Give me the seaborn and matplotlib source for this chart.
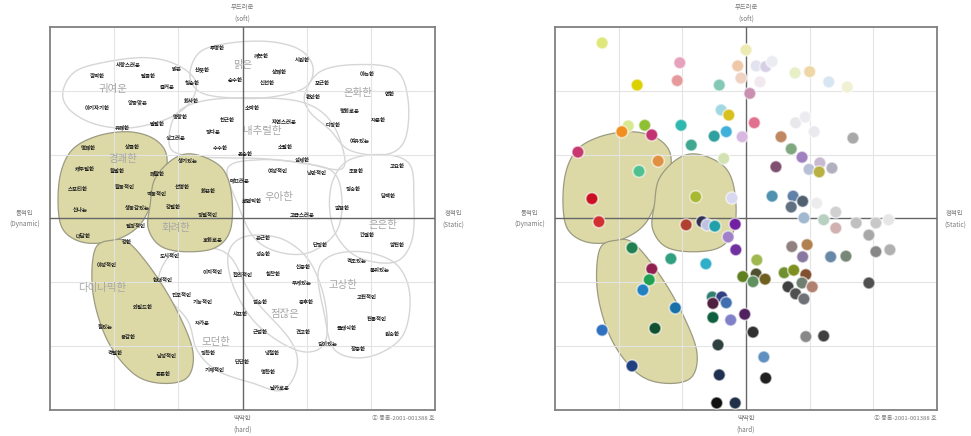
import numpy as np
import pandas as pd
import matplotlib
matplotlib.use("Agg")
import matplotlib.pyplot as plt
from matplotlib.patches import Polygon
import seaborn as sns

sns.set_theme(style="white")
plt.rcParams["font.family"] = ["Noto Sans CJK KR", "DejaVu Sans"]

# ---------------- data: image words (left map) ----------------
word_text = [
    "투명한", "깨끗한", "시원한", "깜찍한", "사랑스러운", "달콤한", "밝은", "산뜻한", "상쾌한", "즐거운",
    "청순한", "순수한", "신선한", "포근한", "아늑한", "편안한", "연한", "아기자기한", "앙증맞은", "화사한",
    "소박한", "평화로운", "차분한", "명랑한", "친근한", "자연스러운", "다정한", "유쾌한", "발랄한", "싱그러운",
    "정다운", "여유있는", "수수한", "소탈한", "명쾌한", "상큼한", "온순한", "섬세한", "고요한", "생기있는",
    "캐주얼한", "활발한", "쾌활한", "여성적인", "낭만적인", "조용한", "매끄러운", "선명한", "화끈한", "스포티한",
    "활동적인", "역동적인", "정숙한", "담백한", "신나는", "생동감있는", "강렬한", "로맨틱한", "깔끔한", "고급스러운",
    "정열적인", "대담한", "열정적인", "호화로운", "강한", "은근한", "단정한", "간결한", "얌전한", "성숙한",
    "도시적인", "격조있는", "품위있는", "야성적인", "신중한", "이지적인", "합리적인", "침착한", "현대적인", "무게있는",
    "진보적인", "기능적인", "엄숙한", "중후한", "고전적인", "와일드한", "샤프한", "전통적인", "힘있는", "차가운",
    "근엄한", "견고한", "클래식한", "원숙한", "용감한", "깊이있는", "장중한", "격렬한", "남성적인", "정확한",
    "냉철한", "단단한", "기계적인", "명확한", "튼튼한", "날카로운",
]
word_x = [
    -0.40, 0.30, 0.93, -2.27, -1.78, -1.47, -1.02, -0.63, 0.58, -1.18,
    -0.79, -0.12, 0.38, 1.24, 1.95, 1.10, 2.30, -2.27, -1.64, -0.79,
    0.16, 1.67, 2.11, -0.97, -0.24, 0.66, 1.41, -1.88, -1.33, -1.04,
    -0.46, 1.83, -0.35, 0.66, -2.41, -1.72, 0.04, 0.94, 2.41, -0.85,
    -2.45, -1.95, -1.33, 0.55, 1.16, 1.78, -0.04, -0.94, -0.54, -2.56,
    -1.83, -1.33, 1.72, 2.27, -2.53, -1.64, -1.08, 0.15, 1.55, 0.93,
    -0.54, -2.48, -1.67, -0.46, -1.80, 0.32, 1.21, 1.94, 2.41, 0.32,
    -1.13, 1.78, 2.14, -2.11, 0.94, -0.46, 0.01, 0.48, -1.24, 0.93,
    -0.94, -0.62, 0.27, 1.00, 1.94, -1.55, -0.04, 2.09, -2.14, -0.62,
    0.27, 0.94, 1.63, 2.34, -1.78, 1.33, 1.80, -1.99, -1.18, -0.54,
    0.46, -0.01, -0.43, 0.40, -1.24, 0.58,
]
word_y = [
    2.66, 2.56, 2.47, 2.23, 2.39, 2.23, 2.33, 2.34, 2.30, 2.06,
    2.11, 2.16, 2.12, 2.11, 2.25, 1.89, 1.94, 1.73, 1.81, 1.84,
    1.73, 1.68, 1.54, 1.59, 1.53, 1.51, 1.45, 1.43, 1.48, 1.26,
    1.34, 1.20, 1.09, 1.12, 1.12, 1.11, 1.00, 0.92, 0.81, 0.89,
    0.78, 0.73, 0.70, 0.73, 0.71, 0.73, 0.60, 0.48, 0.42, 0.45,
    0.48, 0.37, 0.45, 0.34, 0.13, 0.16, 0.18, 0.26, 0.15, 0.05,
    0.05, -0.26, -0.12, -0.34, -0.38, -0.31, -0.42, -0.26, -0.43, -0.57,
    -0.60, -0.68, -0.82, -0.74, -0.76, -0.85, -0.89, -0.87, -0.95, -1.00,
    -1.21, -1.32, -1.32, -1.31, -1.23, -1.39, -1.50, -1.59, -1.70, -1.64,
    -1.79, -1.79, -1.70, -1.81, -1.87, -1.98, -2.06, -2.11, -2.16, -2.11,
    -2.12, -2.26, -2.36, -2.42, -2.45, -2.66,
]

# ---------------- data: image groups ----------------
group_names = ["귀여운", "맑은", "온화한", "내추럴한", "경쾌한", "우아한",
               "화려한", "은은한", "다이나믹한", "고상한", "점잖은", "모던한"]
group_x = [-2.02, 0.01, 1.80, 0.30, -1.86, 0.57, -1.04, 2.19, -2.19, 1.57, 0.66, -0.41]
group_y = [2.03, 2.41, 1.97, 1.37, 0.93, 0.34, -0.15, -0.10, -1.09, -1.04, -1.50, -1.94]

# ---------------- data: colour swatches (right map) ----------------
dot_x = [
    -2.26, 0.00, -1.04, -0.13, 0.16, 0.31, 0.41, -1.08, -0.08, 0.22,
    0.77, 1.00, 1.30, 1.59, -1.71, -0.42, 0.06, -0.39, -0.27, 0.13,
    -1.02, -1.85, -1.59, -1.95, -1.48, -0.50, -0.31, -0.06, 0.78, 0.93,
    1.07, 0.55, 1.68, -0.86, -2.64, -1.38, -1.68, -0.35, 0.71, 0.88,
    0.47, 0.99, 1.16, 1.15, 1.35, -2.42, -0.79, -0.22, 0.41, 0.74,
    0.89, 0.71, 1.11, 1.41, -2.31, -0.94, -0.69, -0.61, -0.49, -0.17,
    0.91, 1.22, 1.41, 1.73, 2.04, 2.24, -0.28, 1.93, -1.79, -0.16,
    -1.18, -0.63, 0.17, 0.72, 0.96, 0.89, 1.33, 1.57, 2.04, 2.26,
    -1.48, -1.52, -1.62, -0.05, 0.16, 0.11, 0.30, 0.60, 0.75, 0.94,
    0.66, 0.88, 1.04, 0.78, 0.91, 1.93, -0.53, -0.38, -0.52, -0.31,
    -1.11, -0.52, -0.24, -0.02, -2.26, -1.43, 0.11, 0.94, 1.22, -0.44,
    0.28, -1.79, -0.42, 0.31, -0.46, -0.17,
]
dot_y = [
    2.75, 2.64, 2.44, 2.39, 2.39, 2.38, 2.46, 2.16, 2.20, 2.14,
    2.28, 2.30, 2.14, 2.06, 2.09, 2.09, 1.96, 1.70, 1.62, 1.50,
    1.46, 1.45, 1.46, 1.36, 1.31, 1.29, 1.36, 1.28, 1.50, 1.59,
    1.36, 1.28, 1.26, 1.15, 1.04, 0.90, 0.74, 0.94, 1.09, 0.96,
    0.81, 0.77, 0.87, 0.73, 0.79, 0.31, 0.34, 0.32, 0.35, 0.35,
    0.27, 0.18, 0.24, 0.10, -0.05, -0.10, -0.05, -0.10, -0.12, -0.09,
    0.01, -0.02, -0.15, -0.07, -0.07, -0.02, -0.29, -0.26, -0.46, -0.49,
    -0.63, -0.71, -0.65, -0.44, -0.41, -0.60, -0.60, -0.59, -0.52, -0.49,
    -0.79, -0.96, -1.12, -0.91, -0.87, -0.99, -0.95, -0.85, -0.81, -0.88,
    -1.07, -1.01, -1.07, -1.18, -1.26, -1.01, -1.23, -1.23, -1.33, -1.32,
    -1.40, -1.55, -1.59, -1.50, -1.75, -1.72, -1.78, -1.85, -1.84, -1.98,
    -2.17, -2.31, -2.45, -2.50, -2.89, -2.89,
]
dot_color = [
    "#dfe77a", "#eeeab4", "#e6a2bc", "#efc8a8", "#e2e2f0", "#d6cfe6", "#ebebf2", "#e79a9c", "#f0d2c2", "#f2e8f0",
    "#e6efc6", "#efd6a6", "#d6e6f2", "#f0f0d2", "#ddd000", "#84c8b6", "#c990b2", "#a2d8e2", "#d8c020", "#e0708e",
    "#2fb8b0", "#d8e88e", "#8fbf32", "#f08f20", "#c23272", "#2f9f9f", "#40b0d8", "#d8b8e0", "#e8e8ec", "#ececf0",
    "#eaeaee", "#c08860", "#a8a8a8", "#40a890", "#c83870", "#e09040", "#50c090", "#d2e2b2", "#80a880", "#a080c0",
    "#805070", "#b8c0d8", "#c8b8d0", "#b8b040", "#b0b0c0", "#c81020", "#a8b830", "#d8d8f0", "#5090b0", "#6080a8",
    "#506070", "#607080", "#ececec", "#d0d0d0", "#d03030", "#b04030", "#303050", "#c0c0e0", "#20a0a8", "#7020a0",
    "#a0b8d0", "#b8d0c0", "#d0b0b0", "#c0c0c0", "#c8c8c8", "#e6e6e6", "#a080c8", "#a8a8a8", "#208050", "#7030a0",
    "#30a080", "#30b0c8", "#a0b850", "#908080", "#b08050", "#8878a0", "#6888a8", "#788878", "#888888", "#b0b0b0",
    "#902050", "#20a050", "#2080c0", "#608020", "#505030", "#609060", "#706020", "#709030", "#809020", "#805030",
    "#404040", "#708070", "#b08070", "#505050", "#707078", "#505050", "#308070", "#304080", "#502040", "#4070b0",
    "#1870a8", "#106040", "#8080c8", "#502060", "#3070c0", "#105030", "#303030", "#888888", "#404040", "#304040",
    "#6090c0", "#204080", "#203050", "#202020", "#101010", "#203048",
]

# ---------------- group outlines (control points, smoothed below) ----------------
white_outlines = {
    "귀여운": [(-2.80, 1.98), (-2.61, 2.30), (-2.14, 2.45), (-1.52, 2.52), (-1.05, 2.42), (-0.74, 2.17),
            (-0.79, 1.86), (-1.13, 1.58), (-1.75, 1.42), (-2.30, 1.48), (-2.69, 1.70)],
    "맑은": [(-0.82, 2.25), (-0.66, 2.61), (-0.19, 2.75), (0.43, 2.77), (0.90, 2.64), (1.10, 2.36),
           (0.97, 2.05), (0.43, 1.90), (-0.19, 1.89), (-0.66, 1.98)],
    "온화한": [(0.97, 1.94), (1.21, 2.30), (1.75, 2.41), (2.38, 2.33), (2.58, 1.86), (2.53, 1.23),
            (2.22, 1.00), (1.67, 1.07), (1.36, 1.39), (1.05, 1.67)],
    "내추럴한": [(-1.13, 1.39), (-0.97, 1.70), (-0.51, 1.86), (0.27, 1.89), (0.90, 1.83), (1.29, 1.62),
             (1.52, 1.23), (1.55, 0.78), (0.90, 0.88), (0.27, 0.94), (-0.27, 0.95), (-0.74, 0.97), (-1.10, 1.07)],
    "우아한": [(-0.23, 0.79), (0.27, 0.92), (0.90, 0.87), (1.41, 0.73), (1.55, 0.29), (1.46, -0.21),
            (1.05, -0.53), (0.58, -0.53), (0.19, -0.31), (-0.07, 0.21)],
    "은은한": [(1.41, 0.60), (1.67, 0.92), (2.22, 1.00), (2.61, 0.84), (2.67, 0.29), (2.64, -0.34),
            (2.38, -0.68), (1.83, -0.62), (1.49, -0.31), (1.36, 0.13)],
    "모던한": [(-1.29, -1.07), (-1.21, -0.68), (-0.97, -0.49), (-0.58, -0.45), (-0.19, -0.60), (0.16, -1.23),
            (0.74, -1.90), (0.85, -2.33), (0.62, -2.69), (0.16, -2.58), (-0.40, -2.38), (-0.71, -2.06),
            (-0.86, -1.59)],
    "점잖은": [(-0.23, -0.65), (-0.12, -0.37), (0.19, -0.26), (0.66, -0.34), (1.05, -0.68), (1.28, -1.28),
            (1.30, -1.90), (1.05, -2.09), (0.66, -1.98), (0.19, -1.62), (-0.12, -1.12)],
    "고상한": [(1.18, -0.84), (1.41, -0.57), (1.94, -0.53), (2.42, -0.74), (2.61, -1.23), (2.48, -1.86),
            (1.95, -2.17), (1.44, -2.06), (1.27, -1.47)],
}
green_outlines = {
    "경쾌한": [(-2.87, 0.13), (-2.84, 0.68), (-2.66, 1.07), (-2.30, 1.28), (-1.83, 1.36), (-1.44, 1.28),
            (-1.21, 1.07), (-1.19, 0.76), (-1.36, 0.37), (-1.60, -0.10), (-1.99, -0.34), (-2.45, -0.38),
            (-2.77, -0.21)],
    "화려한": [(-1.44, 0.21), (-1.36, 0.63), (-1.05, 0.95), (-0.72, 1.00), (-0.32, 0.79), (-0.17, 0.37),
            (-0.19, -0.18), (-0.43, -0.46), (-0.90, -0.52), (-1.28, -0.43), (-1.47, -0.15)],
    "다이나믹한": [(-2.30, -0.49), (-2.03, -0.34), (-1.75, -0.40), (-1.33, -0.92), (-0.97, -1.55), (-0.77, -2.11),
              (-0.87, -2.50), (-1.29, -2.58), (-1.71, -2.42), (-2.11, -1.90), (-2.33, -1.17)],
}


def smooth_closed(points, steps=24):
    """Closed Catmull-Rom curve through the given control points."""
    p = np.asarray(points, float)
    m = len(p)
    t = np.linspace(0, 1, steps, endpoint=False)[:, None]
    segs = []
    for i in range(m):
        p0, p1, p2, p3 = p[i - 1], p[i], p[(i + 1) % m], p[(i + 2) % m]
        segs.append(0.5 * (2 * p1 + (-p0 + p2) * t + (2 * p0 - 5 * p1 + 4 * p2 - p3) * t ** 2
                           + (-p0 + 3 * p1 - 3 * p2 + p3) * t ** 3))
    return np.vstack(segs)


GREEN_FILL = "#dcd9a6"
GREEN_EDGE = "#9c9b82"
WHITE_EDGE = "#d6d6d6"
FRAME = "#808080"
TEXT_GRAY = "#7a7a7a"


def setup_map(ax):
    ax.set_xlim(-3, 3)
    ax.set_ylim(-3, 3)
    ax.set_xticks([])
    ax.set_yticks([])
    for s in ax.spines.values():
        s.set_color(FRAME)
        s.set_linewidth(1.3)
    for v in (-2, -1, 1, 2):
        ax.axvline(v, color="#e4e4e4", lw=0.8, zorder=2.5)
        ax.axhline(v, color="#e4e4e4", lw=0.8, zorder=2.5)
    ax.axvline(0, color="#666666", lw=1.0, zorder=2.6)
    ax.axhline(0, color="#666666", lw=1.0, zorder=2.6)
    kw = dict(transform=ax.transAxes, ha="center", va="center", fontsize=4.6,
              color=TEXT_GRAY, linespacing=1.6, clip_on=False)
    ax.text(0.5, 1.036, "부드러운\n(soft)", **kw)
    ax.text(0.5, -0.037, "딱딱한\n(hard)", **kw)
    ax.text(-0.066, 0.5, "동적인\n(Dynamic)", **kw)
    ax.text(1.047, 0.5, "정적인\n(Static)", **kw)
    ax.text(1.0, -0.022, "ⓒ 등록-2001-001388 호", transform=ax.transAxes, ha="right",
            va="center", fontsize=4.3, color=TEXT_GRAY, clip_on=False)


def draw_green(ax):
    for pts in green_outlines.values():
        ax.add_patch(Polygon(smooth_closed(pts), closed=True, facecolor=GREEN_FILL,
                             edgecolor=GREEN_EDGE, lw=0.9, zorder=2))


fig = plt.figure(figsize=(9.71, 4.36), dpi=100)
ax_l = fig.add_axes([50 / 971, 26 / 436, 385 / 971, 383 / 436])
ax_r = fig.add_axes([555 / 971, 26 / 436, 382 / 971, 383 / 436])

# ---- left: image word map ----
setup_map(ax_l)
for pts in white_outlines.values():
    ax_l.add_patch(Polygon(smooth_closed(pts), closed=True, facecolor="none",
                           edgecolor=WHITE_EDGE, lw=1.0, zorder=1.5))
draw_green(ax_l)
for name, gx, gy in zip(group_names, group_x, group_y):
    ax_l.text(gx, gy, name, ha="center", va="center", fontsize=7.5,
              color="#a6a6a6", zorder=3)
for w, wx, wy in zip(word_text, word_x, word_y):
    ax_l.text(wx, wy, w, ha="center", va="center", fontsize=3.9,
              fontweight="bold", color="#1e1e1e", zorder=4)

# ---- right: colour swatch map ----
setup_map(ax_r)
draw_green(ax_r)
swatches = pd.DataFrame({"x": dot_x, "y": dot_y,
                         "swatch": [f"c{i}" for i in range(len(dot_x))]})
sns.scatterplot(data=swatches, x="x", y="y", hue="swatch",
                palette=dict(zip(swatches["swatch"], dot_color)),
                s=76, edgecolor=(1, 1, 1, 0.55), linewidth=1.2,
                legend=False, ax=ax_r, zorder=4)
ax_r.set_xlabel("")
ax_r.set_ylabel("")

fig.savefig("out.png", dpi=100, facecolor="white")
